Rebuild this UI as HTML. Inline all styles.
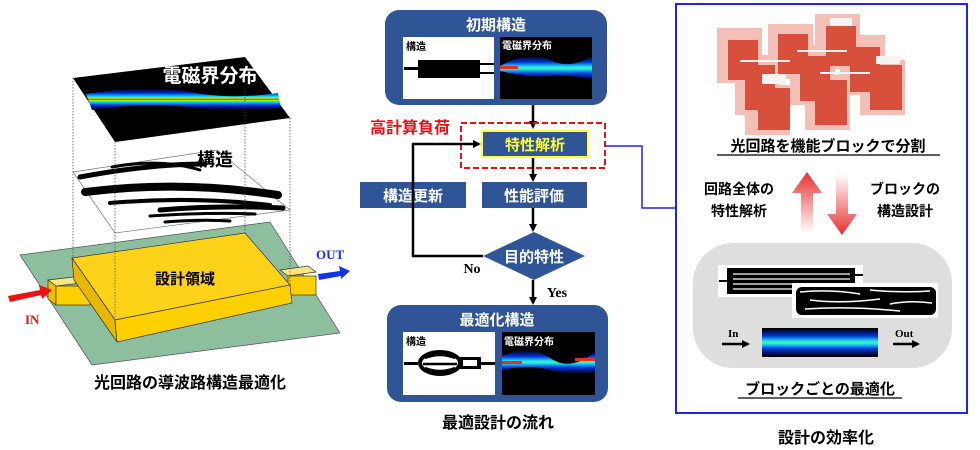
<!DOCTYPE html>
<html><head><meta charset="utf-8"><style>
html,body{margin:0;padding:0;background:#fff;width:980px;height:450px;overflow:hidden}
svg{display:block}
text{font-family:"Liberation Sans","Noto Sans CJK JP",sans-serif;font-weight:bold}
</style></head><body>
<svg width="980" height="450" viewBox="0 0 980 450" xmlns="http://www.w3.org/2000/svg">
<defs>
<linearGradient id="band" x1="0" y1="0" x2="0" y2="1">
<stop offset="0" stop-color="#000"/><stop offset="0.2" stop-color="#0022cc"/><stop offset="0.38" stop-color="#00ddff"/><stop offset="0.45" stop-color="#aaff00"/><stop offset="0.5" stop-color="#ff2200"/><stop offset="0.55" stop-color="#aaff00"/><stop offset="0.62" stop-color="#00ddff"/><stop offset="0.8" stop-color="#0022cc"/><stop offset="1" stop-color="#000"/>
</linearGradient>
<linearGradient id="fld" x1="0" y1="0" x2="0" y2="1">
<stop offset="0" stop-color="#000010"/><stop offset="0.25" stop-color="#0030d0"/><stop offset="0.45" stop-color="#20e0ff"/><stop offset="0.5" stop-color="#40ff80"/><stop offset="0.55" stop-color="#20e0ff"/><stop offset="0.75" stop-color="#0030d0"/><stop offset="1" stop-color="#000010"/>
</linearGradient>
<linearGradient id="up" x1="0" y1="1" x2="0" y2="0"><stop offset="0" stop-color="#fff"/><stop offset="1" stop-color="#e83030"/></linearGradient>
<linearGradient id="dn" x1="0" y1="0" x2="0" y2="1"><stop offset="0" stop-color="#fff"/><stop offset="1" stop-color="#e83030"/></linearGradient>
<marker id="ah" markerWidth="8" markerHeight="8" refX="6" refY="4" orient="auto" markerUnits="userSpaceOnUse"><path d="M0,0 L8,4 L0,8z" fill="#000"/></marker>
</defs>

<!-- LEFT PANEL -->
<polygon points="20,255 270,222 340,333 92,365" fill="#8dbf9f" stroke="#555" stroke-width="0.7"/>
<polygon points="48,280 82,276 90,282 56,286" fill="#ffe680" stroke="#333" stroke-width="0.7"/>
<polygon points="48,280 56,286 56,305 48,299" fill="#f0c000" stroke="#333" stroke-width="0.7"/>
<rect x="56" y="286" width="34" height="19" fill="#ffd000" stroke="#333" stroke-width="0.7"/>
<polygon points="280,270 308,266 316,272 288,276" fill="#ffe680" stroke="#333" stroke-width="0.7"/>
<rect x="288" y="276" width="28" height="19" fill="#ffd000" stroke="#333" stroke-width="0.7"/>
<polygon points="72,258 245,233 290,285 115,320" fill="#ffd21a" stroke="#333" stroke-width="0.7"/>
<polygon points="72,258 115,320 117,342 74,280" fill="#e8b800" stroke="#333" stroke-width="0.7"/>
<polygon points="115,320 290,285 292,303 117,342" fill="#ffd000" stroke="#333" stroke-width="0.7"/>
<text x="185" y="284" font-size="15" text-anchor="middle">設計領域</text>
<polygon points="8,296 40,290 39,285 52,290 42,299 41,295 10,302" fill="#ee1111"/>
<text x="25" y="324" font-size="13" fill="#ee1111" style="font-family:'Liberation Serif',serif">IN</text>
<polygon points="318,274 340,271 339,266 350,271 341,279 341,276 319,280" fill="#1133ee"/>
<text x="316" y="259" font-size="13" fill="#1133ee" style="font-family:'Liberation Serif',serif">OUT</text>
<!-- structure plane -->
<polygon points="73,172 217,150 290,210 115,233" fill="#fff" stroke="#777" stroke-width="0.7"/>
<g stroke="#000" fill="none" stroke-linecap="round">
<path d="M80,177 Q150,164 205,164" stroke-width="5"/>
<path d="M112,167 Q160,158 200,170" stroke-width="3"/>
<path d="M85,192 Q180,180 278,195" stroke-width="8"/>
<path d="M110,203 Q190,196 270,205" stroke-width="4"/>
<path d="M160,210 Q220,205 283,208" stroke-width="5"/>
<path d="M150,216 Q210,212 255,214" stroke-width="3"/>
<path d="M165,222 Q200,219 230,221" stroke-width="3"/>
</g>
<text x="215" y="166" font-size="18" text-anchor="middle">構造</text>
<!-- field plane -->
<polygon points="73,78 245,57 290,118 115,142" fill="#000"/>
<path d="M86,94 Q150,84 190,92 T278,93 L281,108 Q240,112 190,107 T92,110 Z" fill="url(#band)"/>
<text x="210" y="82" font-size="19" fill="#fff" text-anchor="middle">電磁界分布</text>
<g stroke="#444" stroke-width="0.7" stroke-dasharray="1.5,1.5">
<line x1="73" y1="78" x2="73" y2="258"/><line x1="115" y1="142" x2="115" y2="320"/>
<line x1="245" y1="88" x2="245" y2="233"/><line x1="290" y1="118" x2="290" y2="285"/>
</g>
<text x="190" y="388" font-size="16" text-anchor="middle">光回路の導波路構造最適化</text>

<!-- MIDDLE FLOW -->
<rect x="385" y="10" width="222" height="95" rx="14" fill="#2f5597"/>
<text x="496" y="30" font-size="15" fill="#fff" text-anchor="middle">初期構造</text>
<rect x="403" y="37" width="91" height="62" fill="#fff"/>
<text x="406" y="50" font-size="10" fill="#000">構造</text>
<rect x="404" y="67" width="15" height="3" fill="#000"/><rect x="418" y="60" width="62" height="18" fill="#000"/>
<rect x="479" y="63" width="15" height="2" fill="#000"/><rect x="479" y="72" width="15" height="2" fill="#000"/>
<rect x="500" y="37" width="92" height="62" fill="#000"/>
<path d="M500,66 Q530,50 550,60 T592,56 L592,80 Q570,74 550,76 T500,71Z" fill="url(#fld)"/>
<rect x="500" y="66" width="18" height="3" fill="#e83020"/>
<text x="502" y="49" font-size="10" fill="#fff">電磁界分布</text>
<line x1="533" y1="105" x2="533" y2="127" stroke="#000" stroke-width="2.5" marker-end="url(#ah)"/>
<text x="410" y="133" font-size="16" fill="#e81010" text-anchor="middle">高計算負荷</text>
<rect x="482" y="131" width="106" height="26" fill="#2f5597" stroke="#ffff33" stroke-width="2"/>
<text x="535" y="150" font-size="15" fill="#ffff33" text-anchor="middle">特性解析</text>
<rect x="461" y="123" width="144" height="45" fill="none" stroke="#e81010" stroke-width="2" stroke-dasharray="6,3"/>
<line x1="533" y1="158" x2="533" y2="180" stroke="#000" stroke-width="2.5" marker-end="url(#ah)"/>
<rect x="482" y="182" width="105" height="26" fill="#2f5597"/>
<text x="534" y="201" font-size="15" fill="#fff" text-anchor="middle">性能評価</text>
<rect x="360" y="182" width="106" height="26" fill="#2f5597"/>
<text x="413" y="201" font-size="15" fill="#fff" text-anchor="middle">構造更新</text>
<line x1="533" y1="208" x2="533" y2="230" stroke="#000" stroke-width="2.5" marker-end="url(#ah)"/>
<polygon points="534,232 585,256 534,280 483,256" fill="#2f5597"/>
<text x="534" y="262" font-size="15" fill="#fff" text-anchor="middle">目的特性</text>
<polyline points="483,256 413,256 413,144 479,144" fill="none" stroke="#000" stroke-width="2.5" marker-end="url(#ah)"/>
<text x="472" y="273" font-size="14" text-anchor="middle" style="font-family:'Liberation Serif',serif">No</text>
<line x1="533" y1="280" x2="533" y2="303" stroke="#000" stroke-width="2.5" marker-end="url(#ah)"/>
<text x="557" y="297" font-size="14" text-anchor="middle" style="font-family:'Liberation Serif',serif">Yes</text>
<rect x="387" y="305" width="221" height="97" rx="14" fill="#2f5597"/>
<text x="497" y="325" font-size="15" fill="#fff" text-anchor="middle">最適化構造</text>
<rect x="403" y="332" width="92" height="63" fill="#fff"/>
<text x="406" y="345" font-size="10">構造</text>
<rect x="404" y="362" width="14" height="3" fill="#000"/>
<ellipse cx="440" cy="363" rx="20" ry="11" fill="none" stroke="#000" stroke-width="4"/>
<path d="M425,358 Q440,352 455,358 M423,364 L457,364 M425,368 Q440,374 455,368" stroke="#000" stroke-width="2.5" fill="none"/>
<rect x="459" y="357" width="22" height="12" fill="#000"/><rect x="463" y="360" width="14" height="6" fill="#fff"/>
<rect x="480" y="362" width="15" height="3" fill="#000"/>
<rect x="502" y="332" width="93" height="63" fill="#000"/>
<path d="M502,356 Q530,344 550,358 T595,352 L595,372 Q570,376 550,370 T502,370Z" fill="url(#fld)"/>
<rect x="502" y="361" width="20" height="3" fill="#e83020"/><rect x="575" y="358" width="20" height="3" fill="#e83020"/>
<text x="504" y="345" font-size="10" fill="#fff">電磁界分布</text>
<text x="498" y="428" font-size="16" text-anchor="middle">最適設計の流れ</text>
<polyline points="605,146 642,146 642,208 676,208" fill="none" stroke="#2222ee" stroke-width="1.5"/>

<!-- RIGHT PANEL -->
<rect x="676" y="4" width="291" height="409" fill="#fff" stroke="#2222ee" stroke-width="2"/>
<g fill="#e88070" opacity="0.5">
<rect x="717" y="28" width="45" height="55"/><rect x="768" y="24" width="45" height="55"/><rect x="815" y="14" width="45" height="55"/>
<rect x="735" y="55" width="45" height="60"/><rect x="790" y="45" width="45" height="60"/><rect x="840" y="35" width="45" height="60"/>
<rect x="745" y="85" width="45" height="50"/><rect x="805" y="75" width="45" height="55"/><rect x="860" y="60" width="45" height="55"/>
</g>
<g fill="#d84f3c">
<rect x="728" y="40" width="30" height="40"/><rect x="778" y="34" width="30" height="40"/><rect x="826" y="26" width="30" height="40"/>
<rect x="745" y="65" width="30" height="45"/><rect x="800" y="56" width="30" height="45"/><rect x="850" y="47" width="30" height="45"/>
<rect x="758" y="88" width="32" height="42"/><rect x="815" y="80" width="32" height="45"/><rect x="870" y="65" width="32" height="45"/>
</g>
<g fill="#f4f4f4"><rect x="762" y="74" width="24" height="10"/><rect x="876" y="56" width="24" height="8"/><rect x="830" y="18" width="22" height="8"/>
<rect x="740" y="60" width="50" height="2"/><rect x="797" y="50" width="50" height="2"/><rect x="820" y="72" width="50" height="2"/></g>
<text x="828" y="151" font-size="15" text-anchor="middle">光回路を機能ブロックで分割</text>
<line x1="717" y1="155" x2="940" y2="155" stroke="#000" stroke-width="1.2"/>
<text x="739" y="194" font-size="14" text-anchor="middle">回路全体の</text>
<text x="739" y="216" font-size="14" text-anchor="middle">特性解析</text>
<text x="905" y="194" font-size="14" text-anchor="middle">ブロックの</text>
<text x="905" y="216" font-size="14" text-anchor="middle">構造設計</text>
<polygon points="807,172 822,193 813,193 813,233 801,233 801,193 792,193" fill="url(#up)"/>
<polygon points="842,235 857,214 848,214 848,174 836,174 836,214 827,214" fill="url(#dn)"/>
<rect x="693" y="243" width="259" height="125" rx="40" fill="#dedede"/>
<rect x="718" y="265" width="145" height="32" fill="#fff"/>
<rect x="727" y="268" width="128" height="26" fill="#000"/>
<g stroke="#fff" stroke-width="1.2"><line x1="733" y1="274" x2="850" y2="274"/><line x1="733" y1="279" x2="850" y2="279"/><line x1="733" y1="284" x2="850" y2="284"/><line x1="733" y1="289" x2="850" y2="289"/></g>
<rect x="719" y="280" width="8" height="2" fill="#000"/><rect x="855" y="274" width="8" height="2" fill="#000"/>
<rect x="792" y="283" width="146" height="35" fill="#fff"/>
<rect x="796" y="287" width="140" height="28" rx="6" fill="#000"/>
<g stroke="#fff" stroke-width="1.5" fill="none">
<path d="M800,292 Q830,289 860,294"/><path d="M870,290 Q900,293 930,291"/>
<path d="M810,300 Q840,304 880,299"/><path d="M890,304 Q910,300 932,303"/>
<path d="M805,309 Q850,306 900,311"/>
</g>
<text x="728" y="337" font-size="11" style="font-family:'Liberation Serif',serif">In</text>
<line x1="722" y1="344" x2="748" y2="344" stroke="#000" stroke-width="2.5" marker-end="url(#ah)"/>
<rect x="762" y="328" width="116" height="29" fill="#000"/>
<rect x="762" y="329" width="116" height="27" fill="url(#fld)"/>
<text x="895" y="337" font-size="11" style="font-family:'Liberation Serif',serif">Out</text>
<line x1="893" y1="344" x2="918" y2="344" stroke="#000" stroke-width="2.5" marker-end="url(#ah)"/>
<text x="820" y="394" font-size="15" text-anchor="middle">ブロックごとの最適化</text>
<line x1="738" y1="398" x2="902" y2="398" stroke="#000" stroke-width="1.2"/>
<text x="826" y="443" font-size="16" text-anchor="middle">設計の効率化</text>
</svg>
</body></html>
